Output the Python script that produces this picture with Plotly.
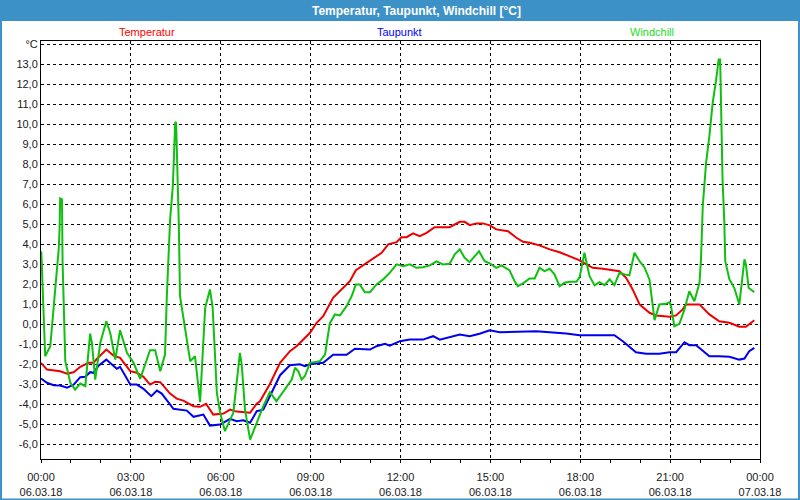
import plotly.graph_objects as go

# Stunden seit 06.03.18 00:00
temp_h = [0.0, 0.2, 0.64, 0.87, 1.09, 1.31, 1.59, 1.75, 1.87, 2.18, 2.42, 2.64, 2.98, 3.2, 3.42,
          3.64, 3.81, 3.98, 4.31, 4.53, 4.75, 5.09, 5.31, 5.51, 5.75, 6.09, 6.31, 6.53, 6.98, 7.2,
          7.31, 7.64, 7.98, 8.31, 8.53, 8.98, 9.2, 9.42, 9.75, 10.03, 10.31, 10.51, 10.87, 11.09,
          11.37, 11.59, 11.87, 12.03, 12.2, 12.42, 12.64, 12.87, 13.14, 13.64, 13.98, 14.14, 14.31,
          14.53, 14.75, 14.98, 15.2, 15.59, 15.87, 16.09, 16.31, 16.64, 16.98, 17.31, 17.64, 17.98,
          18.2, 18.42, 18.75, 19.08, 19.31, 19.53, 19.75, 19.98, 20.31, 20.53, 20.98, 21.2, 21.42,
          21.53, 21.98, 22.31, 22.64, 22.98, 23.31, 23.53, 23.81]
temp_c = [-1.94, -2.28, -2.36, -2.48, -2.41, -2.14, -1.94, -1.94, -1.74, -1.28, -1.58, -1.69, -2.36,
          -2.44, -2.64, -3.03, -2.89, -2.91, -3.48, -3.73, -3.83, -4.11, -4.14, -3.99, -4.53, -4.48,
          -4.28, -4.38, -4.44, -3.98, -3.86, -3.0, -1.94, -1.36, -1.11, -0.44, 0.06, 0.39, 1.31, 1.73,
          2.14, 2.69, 3.06, 3.31, 3.56, 3.98, 4.09, 4.34, 4.34, 4.53, 4.39, 4.56, 4.84, 4.84, 5.11,
          5.11, 4.94, 5.03, 5.03, 4.93, 4.73, 4.64, 4.31, 4.11, 4.06, 3.93, 3.73, 3.59, 3.39, 3.18,
          2.98, 2.81, 2.76, 2.69, 2.64, 2.31, 1.73, 0.98, 0.56, 0.43, 0.36, 0.43, 0.73, 0.98, 0.98,
          0.48, 0.14, 0.06, -0.14, -0.14, 0.19]

dew_h = [0.0, 0.2, 0.42, 0.64, 0.87, 1.09, 1.31, 1.48, 1.64, 1.75, 1.92, 2.18, 2.53, 2.64, 2.98,
         3.2, 3.42, 3.68, 3.87, 4.03, 4.42, 4.87, 5.09, 5.42, 5.64, 5.98, 6.31, 6.53, 6.75, 6.98,
         7.2, 7.42, 7.64, 7.98, 8.31, 8.64, 8.81, 8.98, 9.42, 9.75, 10.2, 10.48, 10.98, 11.2, 11.48,
         11.64, 11.98, 12.31, 12.75, 13.09, 13.31, 13.64, 13.98, 14.31, 14.64, 14.98, 15.31, 16.53,
         17.09, 17.53, 17.98, 19.14, 19.42, 19.86, 20.2, 20.64, 20.98, 21.2, 21.48, 21.64, 21.87,
         22.31, 22.64, 22.98, 23.31, 23.48, 23.64, 23.81]
dew_c = [-2.73, -2.94, -3.06, -3.08, -3.18, -3.03, -2.66, -2.64, -2.41, -2.44, -2.08, -1.78, -2.24,
         -2.14, -3.03, -3.03, -3.24, -3.61, -3.33, -3.48, -4.24, -4.33, -4.64, -4.53, -5.08, -5.03,
         -4.74, -4.86, -4.81, -4.94, -4.36, -4.28, -3.61, -2.56, -2.06, -2.01, -2.11, -2.01, -1.94,
         -1.54, -1.54, -1.24, -1.28, -1.11, -0.99, -1.08, -0.86, -0.78, -0.78, -0.61, -0.78, -0.66,
         -0.53, -0.61, -0.49, -0.31, -0.41, -0.36, -0.41, -0.48, -0.56, -0.56, -0.86, -1.41, -1.49,
         -1.49, -1.41, -1.41, -0.91, -1.06, -1.06, -1.61, -1.61, -1.64, -1.78, -1.73, -1.36, -1.19]

wc_h = [0.01, 0.05, 0.14, 0.31, 0.53, 0.59, 0.62, 0.64, 0.7, 0.72, 0.81, 0.98, 1.14, 1.31, 1.48,
        1.64, 1.7, 1.81, 1.98, 2.18, 2.31, 2.48, 2.64, 2.87, 3.09, 3.31, 3.64, 3.81, 3.98, 4.14,
        4.2, 4.31, 4.4, 4.42, 4.44, 4.48, 4.51, 4.54, 4.57, 4.6, 4.64, 4.98, 5.14, 5.31, 5.48, 5.64,
        5.73, 5.87, 5.98, 6.14, 6.42, 6.64, 6.7, 6.81, 6.98, 7.2, 7.42, 7.64, 7.86, 7.98, 8.37,
        8.48, 8.59, 8.7, 8.81, 8.98, 9.31, 9.48, 9.64, 9.81, 9.98, 10.2, 10.37, 10.51, 10.64, 10.81,
        10.98, 11.2, 11.42, 11.64, 11.87, 12.09, 12.31, 12.53, 12.75, 12.98, 13.2, 13.42, 13.64,
        13.81, 13.98, 14.14, 14.31, 14.48, 14.62, 14.81, 14.98, 15.2, 15.37, 15.64, 15.81, 15.92,
        16.09, 16.31, 16.48, 16.64, 16.81, 16.98, 17.14, 17.31, 17.48, 17.64, 17.87, 17.98, 18.14,
        18.2, 18.31, 18.48, 18.64, 18.81, 18.98, 19.14, 19.31, 19.48, 19.64, 19.81, 19.98, 20.14,
        20.31, 20.48, 20.64, 20.87, 20.98, 21.03, 21.14, 21.31, 21.48, 21.64, 21.81, 21.98, 22.03,
        22.09, 22.14, 22.2, 22.31, 22.42, 22.53, 22.62, 22.67, 22.7, 22.75, 22.81, 22.84, 22.98,
        23.14, 23.31, 23.42, 23.48, 23.53, 23.62, 23.81]
wc_c = [3.64, 1.64, -1.61, -1.11, 2.56, 3.73, 4.73, 6.28, 6.23, 3.14, -1.86, -2.94, -3.28, -2.98,
        -3.11, -0.48, -0.94, -2.78, -0.94, 0.14, -0.44, -1.78, -0.31, -1.44, -1.94, -2.74, -1.31,
        -1.31, -2.36, -1.53, 1.39, 5.23, 6.89, 7.89, 8.98, 10.09, 10.06, 8.39, 6.64, 4.98, 1.39,
        -1.86, -1.61, -3.91, 0.81, 1.73, 0.81, -3.44, -4.44, -5.36, -4.44, -1.44, -2.03, -4.28,
        -5.78, -4.94, -4.11, -3.41, -3.86, -3.61, -2.78, -2.19, -2.36, -2.78, -2.6, -1.94, -1.86,
        -1.53, 0.03, 0.48, 0.43, 0.89, 1.39, 1.98, 1.98, 1.59, 1.59, 1.98, 2.23, 2.56, 2.98, 2.89,
        2.98, 2.81, 2.84, 2.93, 3.13, 2.98, 3.01, 3.48, 3.73, 3.31, 3.09, 3.39, 3.64, 3.14, 3.03,
        2.81, 2.93, 2.68, 2.14, 1.89, 2.03, 2.28, 2.28, 2.81, 2.64, 2.76, 2.48, 1.89, 2.06, 2.11,
        2.11, 2.34, 3.56, 3.14, 2.39, 1.93, 2.09, 1.94, 2.23, 1.94, 2.56, 2.48, 2.43, 3.56, 3.14,
        2.84, 2.23, 0.19, 0.98, 1.01, 1.09, 0.89, -0.11, 0.01, 0.73, 1.64, 1.14, 2.06, 3.23, 5.9,
        7.06, 8.06, 9.39, 11.06, 12.14, 13.23, 13.23, 11.23, 7.23, 5.06, 3.14, 2.23, 1.81, 0.98,
        2.39, 3.23, 2.98, 1.81, 1.59]

x_ticks = [0, 3, 6, 9, 12, 15, 18, 21, 24]
x_labels = ['00:00<br>06.03.18', '03:00<br>06.03.18', '06:00<br>06.03.18', '09:00<br>06.03.18',
            '12:00<br>06.03.18', '15:00<br>06.03.18', '18:00<br>06.03.18', '21:00<br>06.03.18',
            '00:00<br>07.03.18']
y_ticks = list(range(-6, 15))
y_labels = [f'{v},0' for v in range(-6, 14)] + ['°C']

schrift = 'Liberation Sans'

fig = go.Figure()
fig.add_trace(go.Scatter(x=temp_h, y=temp_c, mode='lines', name='Temperatur',
                         line=dict(color='#ee0000', width=2)))
fig.add_trace(go.Scatter(x=dew_h, y=dew_c, mode='lines', name='Taupunkt',
                         line=dict(color='#0000ee', width=2)))
fig.add_trace(go.Scatter(x=wc_h, y=wc_c, mode='lines', name='Windchill',
                         line=dict(color='#10c010', width=2)))

# Titelleiste und Rahmen
fig.add_shape(type='rect', xref='paper', yref='paper', x0=-0.06, x1=1.06, y0=1.0478, y1=1.1,
              fillcolor='#3c91c7', line=dict(width=0), layer='below')
fig.add_shape(type='rect', xref='paper', yref='paper', x0=-0.0556, x1=1.0542, y0=-0.0969, y1=1.06,
              fillcolor='rgba(0,0,0,0)', line=dict(color='#3c91c7', width=2))

fig.add_annotation(text='<b>Temperatur, Taupunkt, Windchill [°C]</b>', xref='paper', yref='paper',
                   x=(416 - 41) / 719, y=(459 - 11) / 418, xanchor='center', yanchor='middle',
                   showarrow=False, font=dict(family=schrift, size=12, color='white'))
for name, farbe, px in [('Temperatur', '#ff0000', 147), ('Taupunkt', '#0000ff', 399),
                        ('Windchill', '#22dd22', 652)]:
    fig.add_annotation(text=name, xref='paper', yref='paper', x=(px - 41) / 719,
                       y=(459 - 32) / 418, xanchor='center', yanchor='middle', showarrow=False,
                       font=dict(family=schrift, size=11, color=farbe))

fig.update_layout(
    width=800, height=500, autosize=False,
    margin=dict(l=41, r=40, t=41, b=41, autoexpand=False),
    paper_bgcolor='white', plot_bgcolor='white',
    showlegend=False,
    font=dict(family=schrift, size=11, color='#202020'),
)
fig.update_xaxes(range=[0, 24], tickvals=x_ticks, ticktext=x_labels, ticks='outside', ticklen=3,
                 tickcolor='black', showline=True, linecolor='black', linewidth=1, mirror=True,
                 showgrid=True, gridcolor='black', gridwidth=1, griddash='3px,3px', zeroline=False,
                 automargin=False, ticklabelstandoff=5,
                 minor=dict(dtick=1, tick0=0, ticks='outside', ticklen=3, tickcolor='black',
                            showgrid=False))
fig.update_yaxes(range=[-6.75, 14.15], tickvals=y_ticks, ticktext=y_labels, ticks='',
                 showline=True, linecolor='black', linewidth=1, mirror=True, automargin=False,
                 showgrid=True, gridcolor='black', gridwidth=1, griddash='3px,3px', zeroline=False)

fig.write_html('out.html', post_script="document.body.style.margin='0';",
               config={'displayModeBar': False})
